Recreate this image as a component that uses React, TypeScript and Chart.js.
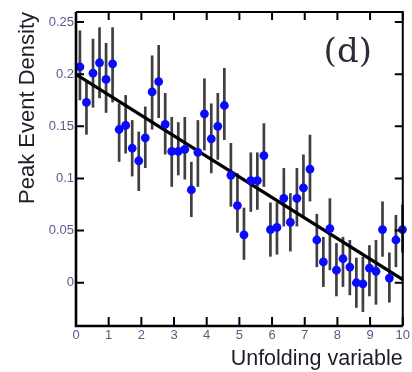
import React, { useEffect, useRef } from 'react';
import { Chart, registerables } from 'chart.js';

Chart.register(...registerables);

// ---- data ----
const xValues = [
  0.12, 0.32, 0.52, 0.72, 0.92, 1.12, 1.32, 1.52, 1.72, 1.92,
  2.12, 2.33, 2.53, 2.73, 2.93, 3.13, 3.33, 3.53, 3.73, 3.93,
  4.14, 4.34, 4.54, 4.74, 4.94, 5.14, 5.35, 5.55, 5.75, 5.95,
  6.15, 6.36, 6.56, 6.76, 6.96, 7.16, 7.37, 7.57, 7.77, 7.97,
  8.17, 8.38, 8.58, 8.78, 8.98, 9.18, 9.38, 9.59, 9.79, 9.99,
];
const yValues = [
  0.207, 0.173, 0.201, 0.211, 0.195, 0.210, 0.147, 0.151, 0.129, 0.117,
  0.139, 0.183, 0.193, 0.152, 0.126, 0.126, 0.128, 0.089, 0.125, 0.162,
  0.138, 0.150, 0.170, 0.103, 0.074, 0.046, 0.098, 0.098, 0.122, 0.051,
  0.053, 0.081, 0.058, 0.081, 0.091, 0.109, 0.041, 0.020, 0.052, 0.012,
  0.023, 0.015, 0.000, -0.001, 0.014, 0.011, 0.051, 0.0045, 0.041, 0.051,
];
const yHigh = [
  0.242, 0.194, 0.234, 0.245, 0.230, 0.245, 0.172, 0.180, 0.156, 0.145,
  0.169, 0.218, 0.228, 0.182, 0.159, 0.154, 0.159, 0.116, 0.156, 0.196,
  0.172, 0.182, 0.206, 0.134, 0.105, 0.072, 0.125, 0.125, 0.153, 0.077,
  0.077, 0.110, 0.086, 0.110, 0.123, 0.142, 0.066, 0.044, 0.081, 0.038,
  0.044, 0.041, 0.024, 0.025, 0.036, 0.041, 0.078, 0.029, 0.065, 0.075,
];
const yLow = [
  0.175, 0.142, 0.168, 0.177, 0.163, 0.173, 0.116, 0.124, 0.102, 0.088,
  0.110, 0.147, 0.158, 0.123, 0.092, 0.103, 0.099, 0.063, 0.092, 0.127,
  0.105, 0.118, 0.137, 0.073, 0.048, 0.022, 0.068, 0.070, 0.092, 0.025,
  0.027, 0.054, 0.030, 0.054, 0.062, 0.078, 0.015, -0.004, 0.012, -0.013,
  -0.004, -0.012, -0.024, -0.028, -0.013, -0.021, 0.025, -0.019, 0.015, 0.029,
];
const fitX = [0, 10];
const fitY = [0.2, 0.003];

const xTicks = [0, 1, 2, 3, 4, 5, 6, 7, 8, 9, 10];
const xTickLabels = ['0', '1', '2', '3', '4', '5', '6', '7', '8', '9', '10'];
const yTicks = [0, 0.05, 0.1, 0.15, 0.2, 0.25];
const yTickLabels = ['0', '0.05', '0.1', '0.15', '0.2', '0.25'];
const xMin = 0;
const xMax = 10;
const yMin = -0.0415;
const yMax = 0.2597;

const xTitle = 'Unfolding variable';
const yTitle = 'Peak Event Density';
const panelLabel = '(d)';

const TICK_COLOR = '#5a5a8c';
const SANS = '"Liberation Sans", Arial, sans-serif';

const errorBarPlugin = {
  id: 'errorBars',
  beforeDatasetsDraw(chart: any) {
    const { ctx, scales } = chart;
    const x = scales.x;
    const y = scales.y;
    ctx.save();
    ctx.strokeStyle = '#404040';
    ctx.lineWidth = 2.7;
    xValues.forEach((xv, i) => {
      const px = x.getPixelForValue(xv);
      ctx.beginPath();
      ctx.moveTo(px, y.getPixelForValue(yHigh[i]));
      ctx.lineTo(px, y.getPixelForValue(yLow[i]));
      ctx.stroke();
    });
    ctx.restore();
  },
};

const framePlugin = {
  id: 'frame',
  afterDatasetsDraw(chart: any) {
    const { ctx, chartArea, scales } = chart;
    const { left, right, top, bottom } = chartArea;
    ctx.save();
    ctx.strokeStyle = '#000';
    ctx.lineWidth = 2;
    ctx.beginPath();
    ctx.moveTo(left, top);
    ctx.lineTo(right, top);
    ctx.lineTo(right, bottom);
    ctx.stroke();
    ctx.lineWidth = 2.6;
    ctx.beginPath();
    ctx.moveTo(left, top);
    ctx.lineTo(left, bottom);
    ctx.lineTo(right, bottom);
    ctx.stroke();
    ctx.lineWidth = 2;
    ctx.beginPath();
    yTicks.forEach((v) => {
      const py = scales.y.getPixelForValue(v);
      ctx.moveTo(left, py);
      ctx.lineTo(left + 8, py);
      ctx.moveTo(right, py);
      ctx.lineTo(right - 8, py);
    });
    xTicks.forEach((v) => {
      const px = scales.x.getPixelForValue(v);
      ctx.moveTo(px, bottom);
      ctx.lineTo(px, bottom - 9);
      ctx.moveTo(px, top);
      ctx.lineTo(px, top + 8);
    });
    ctx.stroke();
    ctx.restore();
  },
  afterDraw(chart: any) {
    const { ctx, chartArea } = chart;
    ctx.save();
    ctx.font = '34px "DejaVu Serif", serif';
    ctx.fillStyle = '#2e2a36';
    ctx.textAlign = 'center';
    ctx.textBaseline = 'alphabetic';
    ctx.fillText(panelLabel, chartArea.right - 55, chartArea.top + 50);
    ctx.restore();
  },
};

export default function App() {
  const canvasRef = useRef<HTMLCanvasElement | null>(null);

  useEffect(() => {
    const canvas = canvasRef.current;
    if (!canvas) return;
    const chart = new Chart(canvas, {
      type: 'scatter',
      data: {
        datasets: [
          {
            label: 'data',
            data: xValues.map((xv, i) => ({ x: xv, y: yValues[i] })),
            backgroundColor: '#0a0aff',
            borderColor: '#0a0aff',
            borderWidth: 0,
            pointRadius: 4.4,
            order: 0,
            clip: false as any,
          },
          {
            label: 'fit',
            type: 'line' as any,
            data: fitX.map((xv, i) => ({ x: xv, y: fitY[i] })),
            borderColor: '#000',
            borderWidth: 3.2,
            pointRadius: 0,
            fill: false,
            order: 1,
          },
        ],
      },
      options: {
        animation: false,
        responsive: false,
        maintainAspectRatio: false,
        layout: { padding: { top: 12, right: 8, left: 0, bottom: 0 } },
        plugins: {
          legend: { display: false },
          tooltip: { enabled: false },
        },
        scales: {
          x: {
            type: 'linear',
            min: xMin,
            max: xMax,
            grid: { display: false, drawTicks: false },
            border: { display: false },
            afterBuildTicks: (scale: any) => {
              scale.ticks = xTicks.map((v) => ({ value: v }));
            },
            afterFit: (scale: any) => {
              scale.height = 46;
            },
            ticks: {
              autoSkip: false,
              maxRotation: 0,
              padding: 2,
              color: TICK_COLOR,
              font: { family: SANS, size: 13 },
              callback: (v: any) => xTickLabels[xTicks.indexOf(Number(v))] ?? '',
            },
            title: {
              display: true,
              text: xTitle,
              align: 'end',
              color: '#1e1e28',
              font: { family: SANS, size: 21.5 },
              padding: { top: 0, bottom: 0 },
            },
          },
          y: {
            type: 'linear',
            min: yMin,
            max: yMax,
            grid: { display: false, drawTicks: false },
            border: { display: false },
            afterBuildTicks: (scale: any) => {
              scale.ticks = yTicks.map((v) => ({ value: v }));
            },
            afterFit: (scale: any) => {
              scale.width = 76;
            },
            ticks: {
              autoSkip: false,
              padding: 2,
              color: TICK_COLOR,
              font: { family: SANS, size: 13 },
              callback: (v: any) => {
                const idx = yTicks.findIndex((t) => Math.abs(t - Number(v)) < 1e-9);
                return idx >= 0 ? yTickLabels[idx] : '';
              },
            },
            title: {
              display: true,
              text: yTitle,
              align: 'end',
              color: '#1e1e28',
              font: { family: SANS, size: 22 },
              padding: { top: 15, bottom: 0 },
            },
          },
        },
      },
      plugins: [errorBarPlugin, framePlugin],
    });
    return () => chart.destroy();
  }, []);

  return (
    <div
      style={{
        position: 'fixed',
        left: 0,
        top: 0,
        width: 412,
        height: 372,
        background: '#fff',
      }}
    >
      <canvas ref={canvasRef} width={412} height={372} style={{ width: 412, height: 372 }} />
    </div>
  );
}
